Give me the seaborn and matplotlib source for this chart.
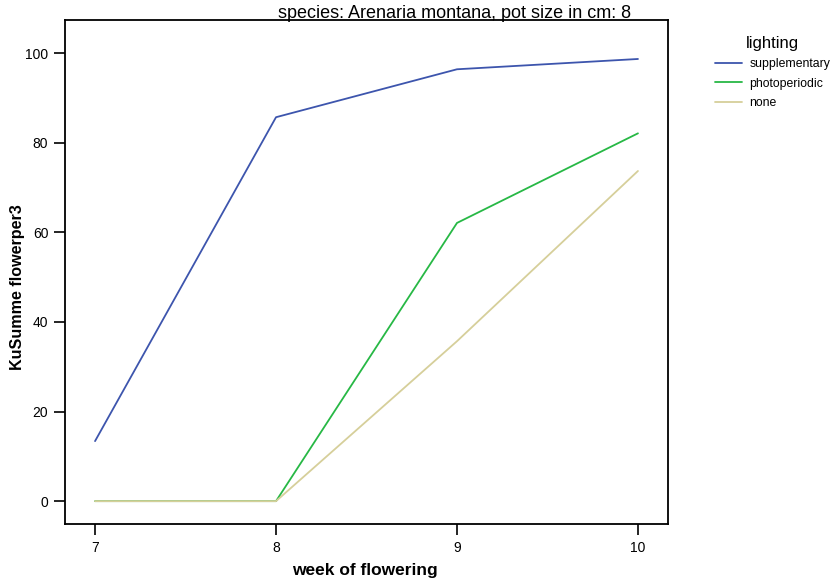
import matplotlib
matplotlib.use("Agg")
import matplotlib.pyplot as plt
import seaborn as sns
import pandas as pd

weeks = [7, 8, 9, 10]
supplementary = [13.4, 85.7, 96.4, 98.7]
photoperiodic = [0.0, 0.0, 62.1, 82.1]
none_vals = [0.0, 0.0, 35.7, 73.7]
series_names = ["supplementary", "photoperiodic", "none"]
colors = ["#3d55ad", "#27b845", "#d6cf9a"]

df = pd.concat([
    pd.DataFrame({"week": weeks, "value": v, "lighting": n})
    for n, v in zip(series_names, [supplementary, photoperiodic, none_vals])
])

sns.set_style("white")
plt.rcParams["font.family"] = ["Liberation Sans", "DejaVu Sans"]
plt.rcParams["text.color"] = "black"
plt.rcParams["axes.labelcolor"] = "black"

fig = plt.figure(figsize=(8.33, 5.81), dpi=100)
ax = fig.add_axes([65/833, 1 - 524/581, (668-65)/833, (524-20)/581])
sns.lineplot(data=df, x="week", y="value", hue="lighting", hue_order=series_names,
             palette=colors, ax=ax, linewidth=1.3, legend=True)

ax.set_xlim(6.834, 10.166)
ax.set_ylim(-5.1, 107.4)
ax.set_xticks(weeks)
ax.set_xticklabels([str(w) for w in weeks])
ax.set_yticks([0, 20, 40, 60, 80, 100])
ax.tick_params(axis="both", direction="out", length=8, width=1.2, labelsize=10,
               colors="black", bottom=True, left=True, pad=4)
for s in ax.spines.values():
    s.set_color("black")
    s.set_linewidth(1.3)
ax.set_xlabel("")
ax.set_ylabel("")
fig.text(365/833, 1 - 570/581, "week of flowering", ha="center", va="center",
         fontsize=12.5, fontweight="bold", color="black")
fig.text(18/833, 1 - 287/581, "KuSumme flowerper3", ha="center", va="center",
         rotation=90, fontsize=11.6, fontweight="bold", color="black")

fig.text(455/833, 1 - 13/581, "species: Arenaria montana, pot size in cm: 8",
         ha="center", va="center", fontsize=13, color="black")

leg = ax.legend(title="lighting", loc="upper left", bbox_to_anchor=(704/833, 1 - 25/581),
                bbox_transform=fig.transFigure, frameon=False, fontsize=8.8,
                title_fontsize=12, handlelength=2.2, handletextpad=0.6, labelspacing=0.6)
leg._legend_box.align = "center"
for t in leg.get_texts():
    t.set_color("black")
leg.get_title().set_color("black")

fig.savefig("out.png", dpi=100)
